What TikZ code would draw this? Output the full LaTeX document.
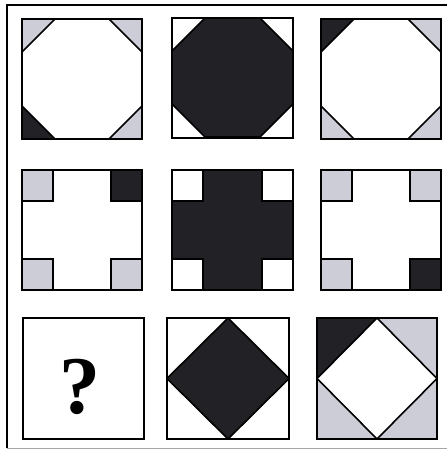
\documentclass[tikz,border=0pt]{standalone}
\usepackage{fontspec}
\setmainfont{Liberation Serif}
\usetikzlibrary{positioning}
\definecolor{inkdark}{HTML}{222226}
\definecolor{inkgray}{HTML}{CDCDD7}

\begin{document}
\begin{tikzpicture}[x=1pt,y=-1pt,
  box/.style={draw,line width=1.8pt},
  dk/.style={fill=inkdark,draw,line width=1.6pt},
  gy/.style={fill=inkgray,draw,line width=1.6pt},
  wt/.style={fill=white,draw,line width=1.6pt},
  pics/octo/.style n args={4}{code={
    \filldraw[#1] (0,0) -- (33,0) -- (0,33) -- cycle;
    \filldraw[#2] (120,0) -- (87,0) -- (120,33) -- cycle;
    \filldraw[#3] (0,120) -- (0,87) -- (33,120) -- cycle;
    \filldraw[#4] (120,120) -- (87,120) -- (120,87) -- cycle;
    \draw[box] (0,0) rectangle (120,120);
  }},
  pics/plus/.style n args={4}{code={
    \filldraw[#1] (0,0) rectangle (31,31);
    \filldraw[#2] (120,0) rectangle (89,31);
    \filldraw[#3] (0,120) rectangle (31,89);
    \filldraw[#4] (120,120) rectangle (89,89);
    \draw[box] (0,0) rectangle (120,120);
  }}]
  \useasboundingbox (0,0) rectangle (447,450);
  % outer frame
  \draw[line width=1.2pt] (447,5) -- (7,5) -- (7,448);
  \draw[line width=0.6pt,black!35] (7,448) -- (447,448);

  % row 1
  \pic at (22,19) {octo={gy}{gy}{dk}{gy}};
  \filldraw[dk] (205,18) -- (260,18) -- (293,51) -- (293,104)
    -- (260,137) -- (205,137) -- (172,104) -- (172,51) -- cycle;
  \draw[box] (172,18) rectangle (293,138);
  \pic at (321,19) {octo={dk}{gy}{gy}{gy}};

  % row 2
  \pic at (22,170) {plus={gy}{dk}{gy}{gy}};
  \fill[inkdark] (172,170) rectangle (293,290);
  \filldraw[wt] (172,170) rectangle (203,201);
  \filldraw[wt] (293,170) rectangle (262,201);
  \filldraw[wt] (172,290) rectangle (203,259);
  \filldraw[wt] (293,290) rectangle (262,259);
  \draw[box] (172,170) rectangle (293,290);
  \pic at (321,170) {plus={gy}{gy}{gy}{dk}};

  % row 3
  \draw[box] (23,318) rectangle (144,439);
  \node[font=\fontsize{82}{82}\selectfont\bfseries,inner sep=0pt] (q) at (80,386.5) {?};
  \filldraw[dk] (228,318) -- (289,378.5) -- (228,439) -- (167,378.5) -- cycle;
  \draw[box] (167,318) rectangle (289,439);
  \filldraw[dk] (317,318) -- (377,318) -- (317,378.5) -- cycle;
  \filldraw[gy] (377,318) -- (437,318) -- (437,378.5) -- cycle;
  \filldraw[gy] (317,378.5) -- (377,439) -- (317,439) -- cycle;
  \filldraw[gy] (437,378.5) -- (437,439) -- (377,439) -- cycle;
  \draw[box] (317,318) rectangle (437,439);
\end{tikzpicture}
\end{document}
